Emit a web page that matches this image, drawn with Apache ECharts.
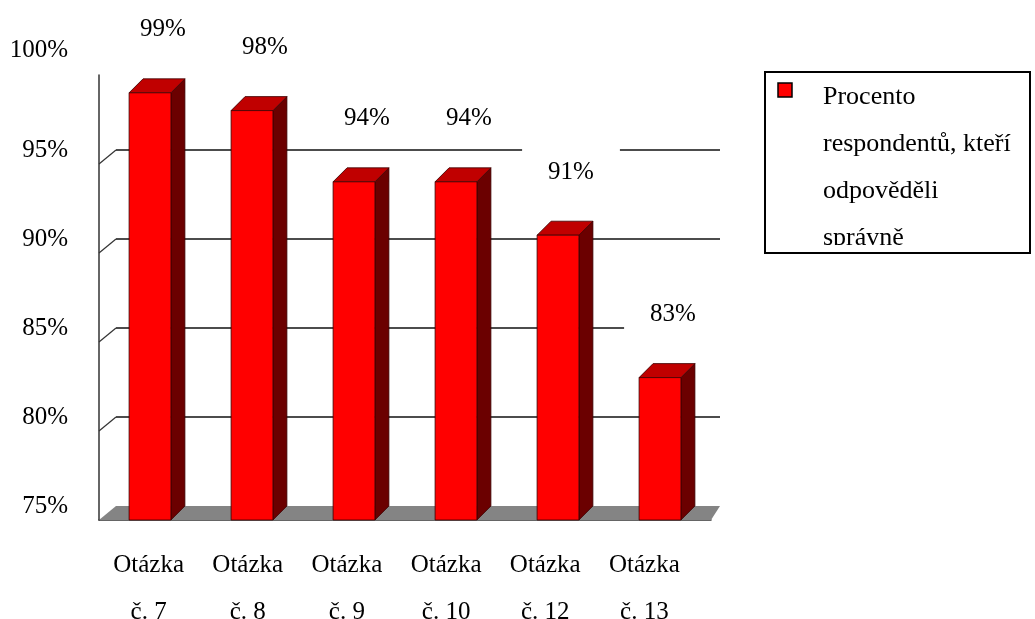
<!DOCTYPE html>
<html>
<head>
<meta charset="utf-8">
<script src="https://cdn.jsdelivr.net/npm/echarts@6/dist/echarts.min.js"></script>
<style>
  html, body { margin: 0; padding: 0; background: #fff; }
  #chart { width: 1035px; height: 619px; }
</style>
</head>
<body>
<div id="chart"></div>
<script>
var categories = ['Otázka\nč. 7', 'Otázka\nč. 8', 'Otázka\nč. 9', 'Otázka\nč. 10', 'Otázka\nč. 12', 'Otázka\nč. 13']
var values = [99, 98, 94, 94, 91, 83]
var yMin = 75
var yMax = 100
var yStep = 5
var wallTicks = [80, 85, 90, 95]
var seriesName = 'Procento respondentů, kteří odpověděli správně'
var legendLines = ['Procento', 'respondentů, kteří', 'odpověděli', 'správně']

var FONT = '"Liberation Serif", "Times New Roman", serif'
var DX = 17
var DY = 14

var chart = echarts.init(document.getElementById('chart'))

// floor + little diagonal ticks on the left wall
function renderFloor(params, api) {
  var cs = params.coordSys
  var yb = cs.y + cs.height
  var children = [{
    type: 'polygon',
    shape: { points: [[cs.x, yb], [cs.x + cs.width, yb], [cs.x + cs.width + 9, yb - DY], [cs.x + DX, yb - DY]] },
    style: { fill: '#848484' }
  }]
  wallTicks.forEach(function(v) {
    var y = api.coord([0, v])[1]
    children.push({
      type: 'line',
      shape: { x1: cs.x, y1: y, x2: cs.x + DX, y2: y - DY },
      style: { stroke: '#333', lineWidth: 1.2 }
    })
  })
  return { type: 'group', children: children }
}

function renderBar(params, api) {
  var cat = api.value(0)
  var val = api.value(1)
  var top = api.coord([cat, val])
  var base = api.coord([cat, yMin])
  var w = api.size([1, 0])[0] * 0.41
  var x0 = top[0] - w / 2
  var x1 = top[0] + w / 2
  var yt = top[1]
  var yb = base[1]
  var d = 14
  var edge = { stroke: '#3a0000', lineWidth: 0.8 }
  return {
    type: 'group',
    children: [
      {
        type: 'polygon',
        shape: { points: [[x1, yt], [x1 + d, yt - d], [x1 + d, yb - d], [x1, yb]] },
        style: Object.assign({ fill: '#6b0000' }, edge)
      },
      {
        type: 'polygon',
        shape: { points: [[x0, yt], [x0 + d, yt - d], [x1 + d, yt - d], [x1, yt]] },
        style: Object.assign({ fill: '#c00000' }, edge)
      },
      {
        type: 'rect',
        shape: { x: x0, y: yt, width: w, height: yb - yt },
        style: Object.assign({ fill: '#ff0000' }, edge)
      },
      {
        type: 'text',
        x: top[0] + 13,
        y: yt - 63,
        z2: 10,
        style: {
          text: val + '%',
          font: '25px ' + FONT,
          fill: '#000',
          align: 'center',
          verticalAlign: 'middle',
          backgroundColor: '#fff',
          padding: [14, 26]
        }
      }
    ]
  }
}

chart.setOption({
  backgroundColor: '#fff',
  animation: false,
  grid: [
    { left: 99, top: 75, width: 612, height: 445, outerBoundsMode: 'none', containLabel: false },
    { left: 116, top: 61, width: 604, height: 445, outerBoundsMode: 'none', containLabel: false },
    // category labels sit a little tighter than the bars
    { left: 99, top: 75, width: 595, height: 445, outerBoundsMode: 'none', containLabel: false }
  ],
  xAxis: [
    {
      gridIndex: 0,
      type: 'category',
      data: categories,
      axisLine: { lineStyle: { color: '#333', width: 1.5 } },
      axisTick: { length: 6, lineStyle: { color: '#333', width: 1.5 } },
      axisLabel: { show: false }
    },
    {
      gridIndex: 1,
      type: 'category',
      data: categories,
      show: false
    },
    {
      gridIndex: 2,
      type: 'category',
      data: categories,
      axisLine: { show: false },
      axisTick: { show: false },
      axisLabel: {
        margin: 22,
        fontSize: 25,
        lineHeight: 47,
        fontFamily: FONT,
        color: '#000'
      }
    }
  ],
  yAxis: [
    {
      gridIndex: 0,
      type: 'value',
      min: yMin,
      max: yMax,
      interval: yStep,
      axisLine: { show: true, lineStyle: { color: '#333', width: 1.5 } },
      axisTick: { show: false },
      axisLabel: { show: false },
      splitLine: { show: false }
    },
    {
      gridIndex: 1,
      type: 'value',
      min: yMin,
      max: yMax,
      interval: yStep,
      axisLine: { show: false },
      axisTick: { show: false },
      axisLabel: {
        margin: 48,
        fontSize: 25,
        fontFamily: FONT,
        color: '#000',
        formatter: function(v) {
          return v === yMax ? '{t|' + v + '%}' : v + '%'
        },
        rich: {
          t: { fontSize: 25, fontFamily: FONT, color: '#000', padding: [0, 0, 22, 0] }
        }
      },
      splitLine: {
        show: true,
        showMinLine: false,
        showMaxLine: false,
        lineStyle: { color: '#111', width: 1.6 }
      }
    },
    {
      gridIndex: 2,
      type: 'value',
      min: yMin,
      max: yMax,
      show: false
    }
  ],
  graphic: [
    {
      type: 'rect',
      shape: { x: 765, y: 72, width: 265, height: 181 },
      style: { fill: '#fff', stroke: null }
    },
    {
      type: 'rect',
      shape: { x: 778, y: 83, width: 14, height: 14 },
      style: { fill: '#ff0000', stroke: '#000', lineWidth: 1.5 }
    },
    {
      type: 'text',
      x: 823,
      y: 74,
      style: {
        text: legendLines.join('\n'),
        font: '26px ' + FONT,
        lineHeight: 47,
        fill: '#000',
        verticalAlign: 'top'
      }
    },
    {
      // last legend line is cut off by the box, as in the original
      type: 'rect',
      shape: { x: 766, y: 245, width: 263, height: 8 },
      style: { fill: '#fff', stroke: null }
    },
    {
      type: 'rect',
      shape: { x: 765, y: 72, width: 265, height: 181 },
      style: { fill: null, stroke: '#000', lineWidth: 2 }
    }
  ],
  series: [
    {
      name: 'floor',
      type: 'custom',
      xAxisIndex: 0,
      yAxisIndex: 0,
      z: 1,
      silent: true,
      renderItem: renderFloor,
      data: [[0, yMin]]
    },
    {
      name: seriesName,
      type: 'custom',
      xAxisIndex: 0,
      yAxisIndex: 0,
      z: 3,
      renderItem: renderBar,
      encode: { x: 0, y: 1 },
      data: values.map(function(v, i) { return [i, v] })
    }
  ]
})
</script>
</body>
</html>
